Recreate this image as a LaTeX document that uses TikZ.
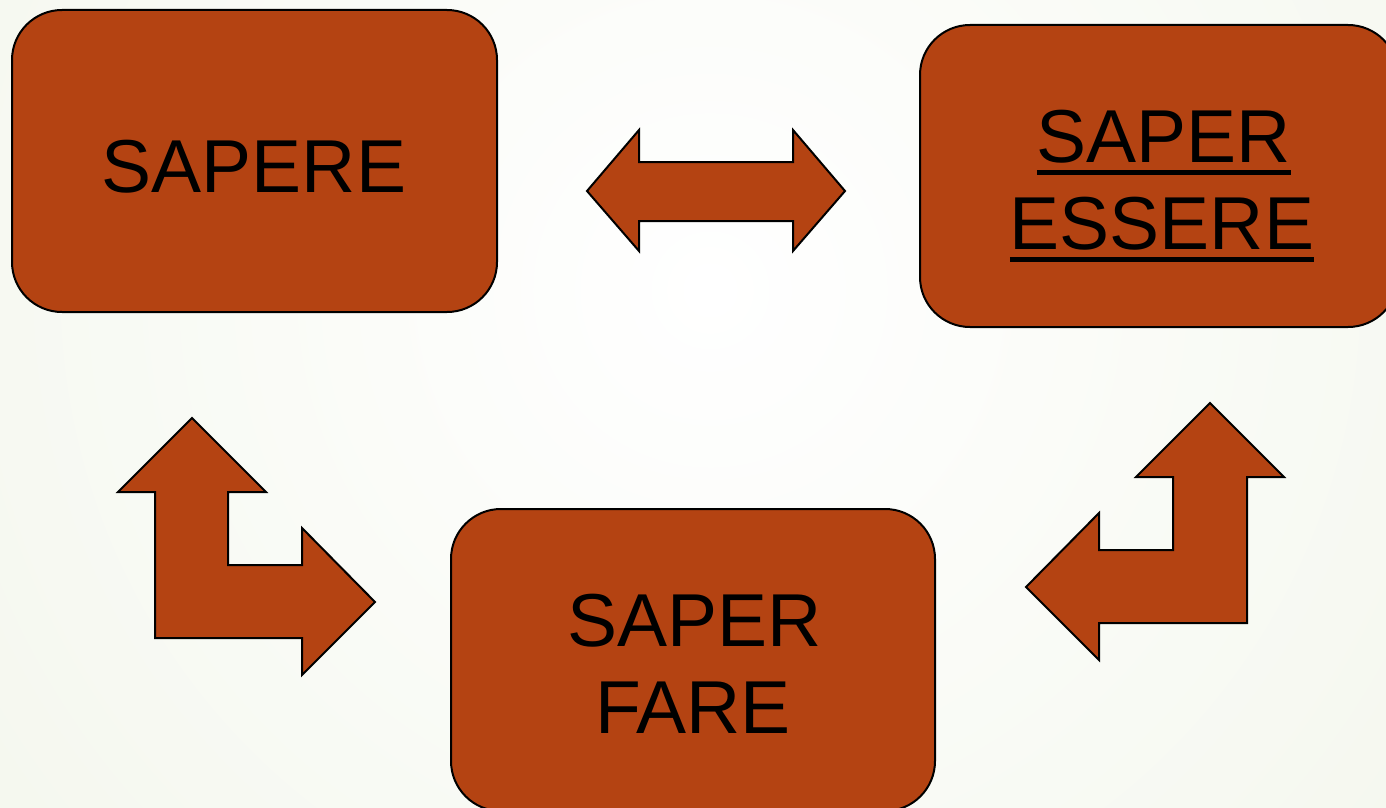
\documentclass[tikz,border=0pt]{standalone}
\usepackage{fontspec}
\setmainfont{Liberation Sans}
\definecolor{bgc}{RGB}{240,244,231}
\definecolor{boxc}{RGB}{180,67,18}
\newcommand\myul[1]{\setbox0\hbox{#1}\rlap{\rule[-13pt]{\wd0}{5pt}}\box0}
\tikzset{
  blockbox/.style={draw=black, line width=2pt, fill=boxc, rounded corners=50pt, minimum width=485pt, minimum height=302pt, inner sep=0pt, outer sep=0pt},
  bigtext/.style={font=\fontsize{75pt}{87pt}\selectfont, text=black, inner sep=0pt, anchor=base},
  blockarrow/.style={draw=black, line width=2pt, fill=boxc, line join=miter}
}
\begin{document}
\begin{tikzpicture}[x=1pt,y=-1pt]
\useasboundingbox (0,0) rectangle (1386,808);
\clip (0,0) rectangle (1386,808);
\fill[bgc] (0,0) rectangle (1386,808);
\shade[inner color=white, outer color=bgc] (710,290) circle (1300);

% boxes
\node[blockbox] (sapere) at (254.5,161) {};
\node[blockbox, minimum width=478pt] (essere) at (1159,176) {};
\node[blockbox, minimum width=484pt] (fare) at (693,660) {};

% texts
\node[bigtext] (t1) at (254,192) {SAPERE};
\node[bigtext] (t2a) at (1164,162) {\myul{SAPER}};
\node[bigtext] (t2b) at (1162,249) {\myul{ESSERE}};
\node[bigtext] (t3a) at (695,646) {SAPER};
\node[bigtext] (t3b) at (693,733) {FARE};

% double arrow between SAPERE and SAPER ESSERE
\draw[blockarrow] (587,191) -- (639,130) -- (639,162) -- (793,162) -- (793,130) -- (845,191)
  -- (793,251) -- (793,221) -- (639,221) -- (639,251) -- cycle;

% left bent arrow (up and right)
\draw[blockarrow] (192,418) -- (266,492) -- (228,492) -- (228,565) -- (302,565) -- (302,528)
  -- (375,602) -- (302,675) -- (302,638) -- (155,638) -- (155,492) -- (118,492) -- cycle;

% right bent arrow (up and left)
\draw[blockarrow] (1210,403) -- (1284,477) -- (1247,477) -- (1247,623) -- (1099,623) -- (1099,660)
  -- (1026,587) -- (1099,513) -- (1099,550) -- (1173,550) -- (1173,477) -- (1136,477) -- cycle;
\end{tikzpicture}
\end{document}
